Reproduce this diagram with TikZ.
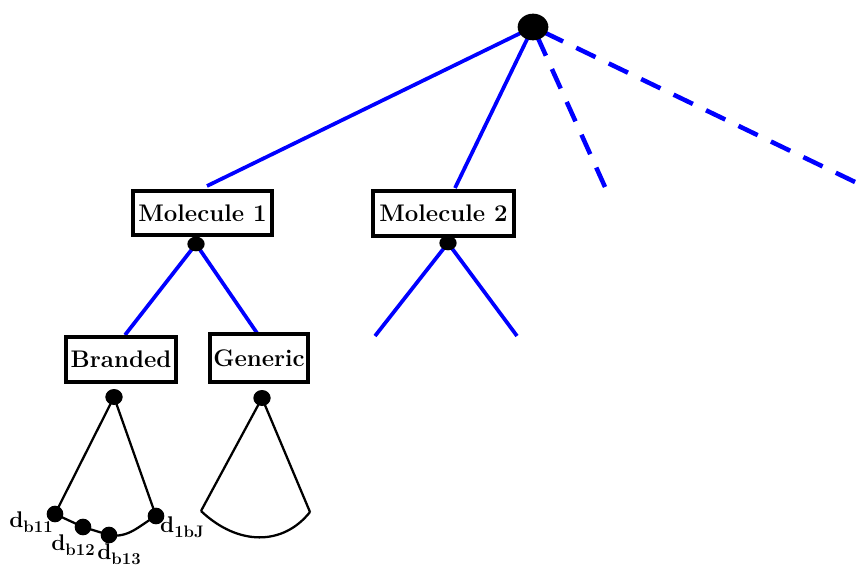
\documentclass[tikz,border=0pt]{standalone}
\usepackage{fontspec}
\usetikzlibrary{shapes.geometric}
\newcommand{\dlab}[1]{{\bfseries d\raisebox{-0.5ex}{\fontsize{12.5}{14}\selectfont #1}}}
\begin{document}
\begin{tikzpicture}[x=0.75pt,y=-0.75pt,
  box/.style={draw=black,line width=2.5pt,fill=white,inner sep=0pt,font=\fontsize{18}{20}\selectfont\bfseries},
  dot/.style={ellipse,fill=black,draw=none,inner sep=0pt},
  blueline/.style={blue,line width=2.8pt},
  bluedash/.style={blue,line width=3.4pt,dash pattern=on 16pt off 11pt},
  blk/.style={black,line width=1.7pt},
  lab/.style={inner sep=0pt,font=\fontsize{17}{19}\selectfont}]
\useasboundingbox (0,0) rectangle (866,566);
% coordinates
\coordinate (r) at (533,27);
\coordinate (d1) at (196,244);
\coordinate (d2) at (448,243);
\coordinate (db) at (114,397);
\coordinate (dg) at (262,398);
\coordinate (e1) at (605,187);
\coordinate (e2) at (855,182);
\coordinate (m1t) at (207,186);
\coordinate (m2t) at (455,188);
\coordinate (bt) at (125,335);
\coordinate (gt) at (257,333);
\coordinate (c1) at (375,336);
\coordinate (c2) at (517,336);
\coordinate (gl) at (201,511);
\coordinate (gr) at (310,512);
\coordinate (n1) at (55,514);
\coordinate (n2) at (83,527);
\coordinate (n3) at (109,535);
\coordinate (n4) at (156,516);
% blue connectors
\draw[blueline] (r) -- (m1t);
\draw[blueline] (r) -- (m2t);
\draw[bluedash] (e1) -- (r);
\draw[bluedash] (e2) -- (r);
\draw[blueline] (d1) -- (bt);
\draw[blueline] (d1) -- (gt);
\draw[blueline] (d2) -- (c1);
\draw[blueline] (d2) -- (c2);
% black connectors
\draw[blk] (db) -- (n1);
\draw[blk] (db) -- (n4);
\draw[blk] (n1) -- (n2) -- (n3) to[out=-10,in=-150] (n4);
\draw[blk] (dg) -- (gl);
\draw[blk] (dg) -- (gr);
\draw[blk] (gl) .. controls (238,546) and (283,546) .. (gr);
% boxes
\node[box,minimum width=104.25pt,minimum height=33pt] (m1) at (202.5,213) {Molecule 1};
\node[box,minimum width=105.75pt,minimum height=33.75pt] (m2) at (443.5,213.5) {Molecule 2};
\node[box,minimum width=82.5pt,minimum height=33.75pt] (br) at (121,359.5) {Branded};
\node[box,minimum width=73.5pt,minimum height=36pt] (ge) at (259,358) {Generic};
% dots
\node[dot,minimum width=23pt,minimum height=20pt] (root) at (r) {};
\node[dot,minimum width=13pt,minimum height=11pt] (p1) at (d1) {};
\node[dot,minimum width=13pt,minimum height=11pt] (p2) at (d2) {};
\node[dot,minimum width=13pt,minimum height=12pt] (pb) at (db) {};
\node[dot,minimum width=13pt,minimum height=12pt] (pg) at (dg) {};
\node[dot,minimum width=12.5pt,minimum height=12.5pt] (q1) at (n1) {};
\node[dot,minimum width=12.5pt,minimum height=12.5pt] (q2) at (n2) {};
\node[dot,minimum width=12.5pt,minimum height=12.5pt] (q3) at (n3) {};
\node[dot,minimum width=12.5pt,minimum height=12.5pt] (q4) at (n4) {};
% labels
\node[lab] (l1) at (31,522) {\dlab{b11}};
\node[lab] (l2) at (73,545) {\dlab{b12}};
\node[lab] (l3) at (119,554) {\dlab{b13}};
\node[lab] (l4) at (182,527) {\dlab{1bJ}};
\end{tikzpicture}
\end{document}
